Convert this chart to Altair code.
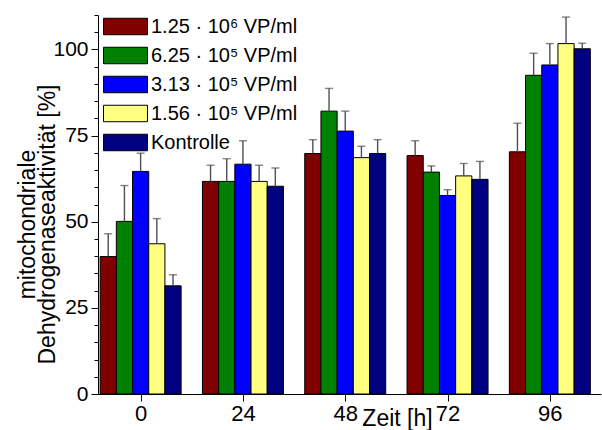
import altair as alt
import pandas as pd

# ---- data ----
times = [0, 24, 48, 72, 96]
series = ["1.25 · 10⁶ VP/ml", "6.25 · 10⁵ VP/ml", "3.13 · 10⁵ VP/ml", "1.56 · 10⁵ VP/ml", "Kontrolle"]
colors = ["#800000", "#008000", "#0000ff", "#ffff80", "#000080"]

mean_125e6 = [39.9, 61.7, 69.8, 69.2, 70.3]
mean_625e5 = [50.1, 61.7, 82.1, 64.4, 92.5]
mean_313e5 = [64.6, 66.7, 76.3, 57.6, 95.5]
mean_156e5 = [43.6, 61.7, 68.6, 63.3, 101.7]
mean_ctrl = [31.4, 60.3, 69.8, 62.3, 100.2]

err_125e6 = [6.6, 4.7, 4.0, 4.3, 8.3]
err_625e5 = [10.4, 6.6, 6.6, 1.8, 6.4]
err_313e5 = [5.3, 6.8, 5.8, 1.7, 6.2]
err_156e5 = [7.3, 4.7, 3.3, 3.6, 7.7]
err_ctrl = [3.2, 5.3, 4.0, 5.2, 1.6]

y_ticks = list(range(0, 111, 5))

means = [mean_125e6, mean_625e5, mean_313e5, mean_156e5, mean_ctrl]
errs = [err_125e6, err_625e5, err_313e5, err_156e5, err_ctrl]

BAR_W = 3.8  # bar width in hours (style)
FONT = "Liberation Sans"

rows = []
for si, s in enumerate(series):
    for ti, t in enumerate(times):
        rows.append({"series": s, "idx": si, "time": t,
                     "mean": means[si][ti], "err": errs[si][ti]})
df = pd.DataFrame(rows)

base = alt.Chart(df).transform_calculate(
    x0=f"datum.time + (datum.idx - 2.5) * {BAR_W}",
    x1=f"datum.time + (datum.idx - 1.5) * {BAR_W}",
    xc=f"datum.time + (datum.idx - 2) * {BAR_W}",
    top="datum.mean + datum.err",
)

xscale = alt.Scale(domain=[-10, 108], nice=False, zero=False)
yscale = alt.Scale(domain=[0, 110], nice=False)

xaxis = alt.Axis(values=times, title="Zeit [h]", tickSize=7, labelPadding=2,
                 labelFontSize=22,
                 titleX=299, titleY=31, titleBaseline="alphabetic",
                 titleAlign="center", labelFlush=False)
yaxis = alt.Axis(values=y_ticks,
                 labelExpr="datum.value % 25 === 0 ? datum.label : ''",
                 labelOverlap=False, labelFontSize=21,
                 tickSize={"condition": {"test": "datum.value % 25 === 0", "value": 7}, "value": 4},
                 labelPadding=3,
                 title=["mitochondriale", "Dehydrogenaseaktivität [%]"],
                 titleAngle=-90, titleX=-64, titleY=209,
                 titleAlign="center", titleBaseline="alphabetic",
                 titleLineHeight=20)

bars = base.mark_bar(stroke="black", strokeWidth=1, opacity=1).encode(
    x=alt.X("x0:Q", scale=xscale, axis=xaxis),
    x2="x1:Q",
    y=alt.Y("mean:Q", scale=yscale, axis=yaxis),
    y2=alt.datum(0),
    fill=alt.Fill("series:N", sort=series,
                  scale=alt.Scale(domain=series, range=colors),
                  legend=alt.Legend(orient="none", legendX=13, legendY=-3, title=None,
                                    symbolType="M-1.6,-0.6H1.6V0.6H-1.6Z",
                                    symbolSize=756, symbolStrokeColor="black",
                                    symbolStrokeWidth=1, symbolOpacity=1,
                                    labelFontSize=20, labelFont=FONT, labelColor="black",
                                    labelOffset=11, rowPadding=4, padding=0,
                                    labelLimit=300)),
)

rules = base.mark_rule(color="#505050", strokeWidth=1.4).encode(
    x=alt.X("xc:Q", scale=xscale, axis=xaxis),
    y=alt.Y("mean:Q", scale=yscale, axis=yaxis),
    y2="top:Q",
)

caps = base.mark_tick(color="#505050", orient="horizontal", size=8, thickness=1.4).encode(
    x=alt.X("xc:Q", scale=xscale, axis=xaxis),
    y=alt.Y("top:Q", scale=yscale, axis=yaxis),
)

chart = alt.layer(bars, rules, caps).properties(
    width=503, height=379,
    padding={"left": 98, "top": 15, "right": 1, "bottom": 36},
    autosize=alt.AutoSizeParams(type="none"),
).configure_view(stroke=None).configure_axis(
    grid=False, domainColor="black", tickColor="black", labelColor="black",
    titleColor="black", labelFont=FONT, titleFont=FONT,
    titleFontSize=23, titleFontWeight="normal", domainWidth=1, tickWidth=1,
)

chart.save("out.html", embed_options={"renderer": "svg", "actions": False})
